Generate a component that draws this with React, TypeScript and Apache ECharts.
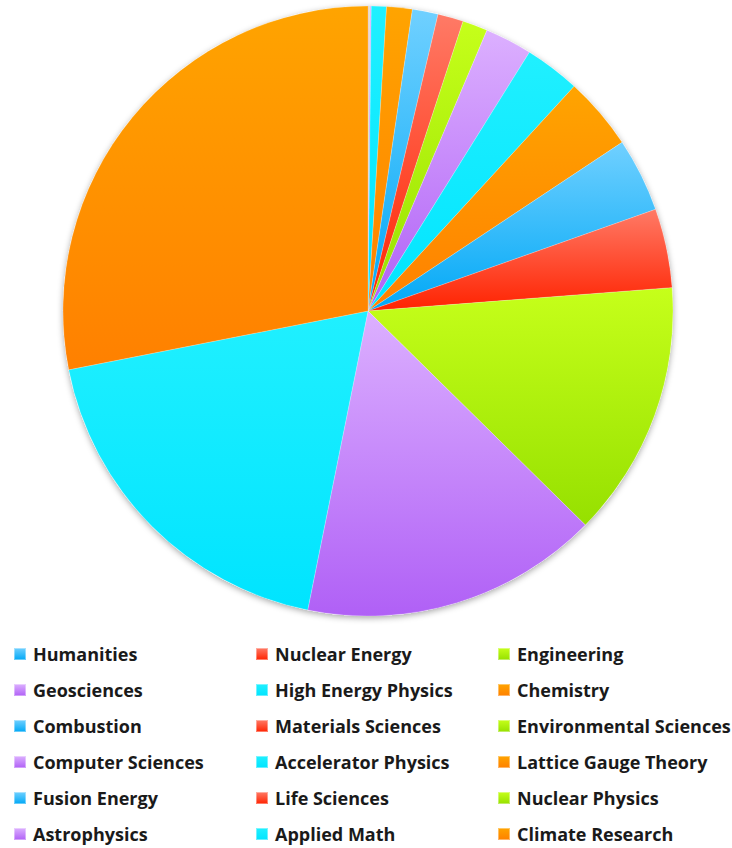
import React, { useEffect, useRef } from "react";
import * as echarts from "echarts";

const categories = [
  "Humanities", "Nuclear Energy", "Engineering",
  "Geosciences", "High Energy Physics", "Chemistry",
  "Combustion", "Materials Sciences", "Environmental Sciences",
  "Computer Sciences", "Accelerator Physics", "Lattice Gauge Theory",
  "Fusion Energy", "Life Sciences", "Nuclear Physics",
  "Astrophysics", "Applied Math", "Climate Research",
];
const values = [
  0.03, 0.03, 0.03,
  0.08, 0.8, 1.36,
  1.36, 1.36, 1.33,
  2.5, 2.94, 3.86,
  3.92, 4.19, 13.6,
  15.8, 18.75, 28.1,
];
// gradient colour pairs (top, bottom), cycled over categories
const palette = [
  ["#70d0ff", "#00a8f6"],
  ["#ff7a66", "#ff2200"],
  ["#c6ff1a", "#96e000"],
  ["#dcb0ff", "#b060f6"],
  ["#20f0ff", "#00e4ff"],
  ["#ffa400", "#ff8000"],
];

export default function App() {
  const ref = useRef<HTMLDivElement>(null);
  useEffect(() => {
    if (!ref.current) return;
    const chart = echarts.init(ref.current, null, { renderer: "svg" });
    const data = categories.map((name, i) => {
      const [c0, c1] = palette[i % palette.length];
      return {
        name,
        value: values[i],
        itemStyle: {
          color: new echarts.graphic.LinearGradient(0, 0, 0, 1, [
            { offset: 0, color: c0 },
            { offset: 1, color: c1 },
          ]),
        },
      };
    });
    const cols = [0, 1, 2].map((c) => categories.filter((_, i) => i % 3 === c));
    const lefts = [13, 255, 497];
    chart.setOption({
      animation: false,
      backgroundColor: "#ffffff",
      legend: cols.map((col, c) => ({
        data: col,
        orient: "vertical",
        left: lefts[c],
        top: 644,
        height: 230,
        padding: 0,
        itemWidth: 12,
        itemHeight: 12,
        itemGap: 16,
        icon: "rect",
        selectedMode: false,
        textStyle: {
          fontFamily: "Open Sans",
          fontWeight: "bold",
          fontSize: 18,
          color: "#1a1a1a",
          lineHeight: 20,
          padding: [0, 0, 0, 2],
        },
      })),
      series: [
        {
          type: "pie",
          silent: true,
          center: [368, 311],
          radius: 305,
          label: { show: false },
          labelLine: { show: false },
          itemStyle: {
            color: "#ffffff",
            shadowBlur: 6,
            shadowColor: "rgba(0,0,0,0.35)",
            shadowOffsetY: 2,
          },
          data: [{ name: "_bg", value: 1 }],
          z: 1,
        },
        {
          type: "pie",
          center: [368, 311],
          radius: 305,
          startAngle: 90,
          clockwise: true,
          label: { show: false },
          labelLine: { show: false },
          itemStyle: { borderColor: "rgba(255,255,255,0.4)", borderWidth: 0.5 },
          emphasis: { disabled: true },
          data,
          z: 2,
        },
      ],
    });
    return () => chart.dispose();
  }, []);
  return (
    <div
      ref={ref}
      style={{ position: "fixed", left: 0, top: 0, width: 732, height: 848 }}
    />
  );
}
